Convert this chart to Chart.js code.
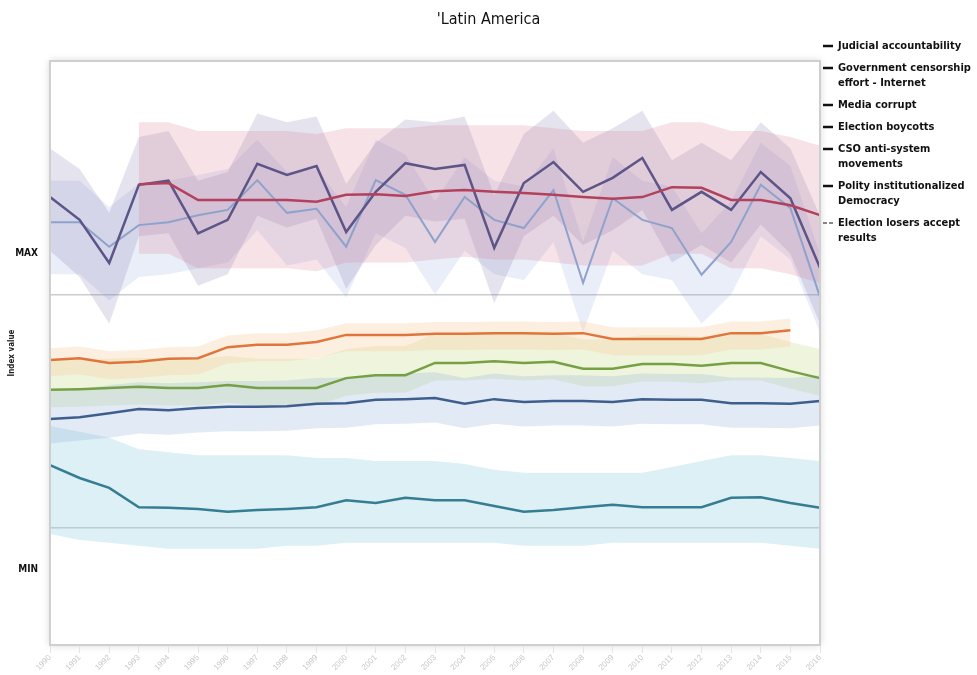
<!DOCTYPE html>
<html>
<head>
<meta charset="utf-8">
<script src="https://cdn.jsdelivr.net/npm/chart.js@4.4.1/dist/chart.umd.min.js"></script>
<style>
  html, body { margin: 0; padding: 0; background: #ffffff; }
  #wrap { width: 977px; height: 675px; }
</style>
</head>
<body>
<div id="wrap"><canvas id="c" width="977" height="675"></canvas></div>
<script>
// ---- data -------------------------------------------------------------
const years = ['1990','1991','1992','1993','1994','1995','1996','1997','1998','1999',
               '2000','2001','2002','2003','2004','2005','2006','2007','2008','2009',
               '2010','2011','2012','2013','2014','2015','2016'];

// y-axis markers (scale runs 0..100 between the two extremes)
const yTickValues = [13, 20, 60, 67];
const yTickLabels = ['MIN', '', '', 'MAX'];

const judicialAccountability = [38.7,39.0,39.7,40.4,40.2,40.6,40.8,40.8,40.9,41.3,41.4,42.0,42.1,42.3,41.3,42.1,41.6,41.8,41.8,41.6,42.1,42.0,42.0,41.4,41.4,41.3,41.8];
const judicialHi = [43.5,43.8,44.5,45.0,44.8,45.0,45.2,45.2,45.3,45.7,45.8,46.4,46.5,46.7,45.7,46.5,46.0,46.2,46.2,46.0,46.5,46.4,46.4,45.8,45.8,45.7,46.2];
const judicialLo = [34.5,35.0,35.5,36.2,36.0,36.4,36.6,36.6,36.7,37.1,37.2,37.8,37.9,38.1,37.1,37.9,37.4,37.6,37.6,37.4,37.9,37.8,37.8,37.2,37.2,37.1,37.6];

const censorshipInternet = [48.8,49.1,48.3,48.5,49.0,49.1,51.0,51.4,51.4,51.9,53.1,53.1,53.1,53.3,53.3,53.4,53.4,53.3,53.4,52.4,52.4,52.4,52.4,53.4,53.4,53.9,null];
const censorshipHi = [50.8,51.1,50.3,50.5,51.0,51.1,53.0,53.4,53.4,53.9,55.1,55.1,55.1,55.3,55.3,55.4,55.4,55.3,55.4,54.4,54.4,54.4,54.4,55.4,55.4,55.9,null];
const censorshipLo = [46.0,46.3,45.5,45.7,46.2,46.3,48.2,48.6,48.6,49.1,50.3,50.3,50.3,50.5,50.5,50.6,50.6,50.5,50.6,49.6,49.6,49.6,49.6,50.6,50.6,51.1,null];

const mediaCorrupt = [43.7,43.8,44.0,44.2,44.0,44.0,44.5,44.0,44.0,44.0,45.7,46.2,46.2,48.3,48.3,48.6,48.3,48.5,47.3,47.3,48.1,48.1,47.8,48.3,48.3,46.9,45.7];
const mediaHi = [48.7,48.8,49.0,49.2,49.0,49.0,49.5,49.0,49.0,49.0,50.7,51.2,51.2,53.3,53.3,53.6,53.3,53.5,52.3,52.3,53.1,53.1,52.8,53.3,53.3,51.9,50.7];
const mediaLo = [40.7,40.8,41.0,41.2,41.0,41.0,41.5,41.0,41.0,41.0,42.7,43.2,43.2,45.3,45.3,45.6,45.3,45.5,44.3,44.3,45.1,45.1,44.8,45.3,45.3,43.9,42.7];

const electionBoycotts = [null,null,null,78.9,79.1,76.2,76.2,76.2,76.2,75.9,77.1,77.2,76.9,77.7,77.9,77.6,77.4,77.1,76.7,76.4,76.7,78.4,78.3,76.2,76.2,75.3,73.6];
const boycottsHi = [null,null,null,89.5,89.5,88.0,88.0,88.0,88.0,87.5,88.5,88.5,88.5,89.0,89.0,89.0,89.0,88.5,88.0,88.0,88.0,89.5,89.5,88.0,88.0,87.0,85.5];
const boycottsLo = [null,null,null,67.0,67.0,64.5,64.5,64.5,64.5,64.0,65.5,65.5,65.5,66.0,66.5,66.0,66.0,65.5,65.0,65.0,65.0,67.0,67.0,64.5,64.5,63.5,62.0];

const csoAntiSystem = [76.7,72.8,65.4,78.8,79.5,70.5,72.8,82.4,80.5,82.0,70.7,77.6,82.5,81.5,82.2,68.0,79.1,82.7,77.6,80.0,83.4,74.5,77.6,74.5,81.0,76.5,64.6];
const csoHi = [85.0,81.5,74.0,87.0,88.0,79.5,81.0,91.0,89.5,90.5,79.0,86.0,90.0,89.5,90.5,77.0,87.5,91.5,86.0,88.5,91.5,83.0,86.0,83.0,89.5,85.0,73.5];
const csoLo = [67.5,63.0,55.0,70.0,70.5,61.5,63.5,73.5,71.5,73.0,61.0,68.5,73.5,72.5,73.0,58.5,70.0,73.5,68.5,71.0,74.5,65.5,68.5,65.5,72.0,67.0,55.0];

const polityDemocracy = [30.8,28.6,26.9,23.6,23.5,23.3,22.8,23.1,23.3,23.6,24.8,24.3,25.2,24.8,24.8,23.8,22.8,23.1,23.6,24.0,23.6,23.6,23.6,25.2,25.3,24.3,23.5];
const polityHi = [37.5,36.5,35.5,33.5,33.0,32.5,32.5,32.5,32.5,32.0,32.0,31.5,31.5,31.5,31.0,30.0,29.5,29.5,29.5,29.5,29.5,30.5,31.5,32.5,32.5,32.0,31.5];
const polityLo = [19.0,18.0,17.5,17.0,16.5,16.5,16.5,16.5,17.0,17.0,17.5,17.5,17.5,17.5,17.5,17.5,17.0,17.0,17.0,17.5,17.5,17.5,17.5,17.5,17.5,17.0,16.5];

const losersAccept = [72.4,72.4,68.2,71.9,72.4,73.6,74.5,79.6,74.0,74.7,68.2,79.6,77.1,69.0,76.7,72.8,71.4,77.9,62.0,76.5,72.8,71.4,63.4,69.0,78.8,74.8,59.6];
const losersHi = [79.5,79.5,75.0,79.0,79.5,80.5,81.5,86.5,81.0,81.5,75.0,86.5,84.0,76.0,83.5,79.5,78.5,85.0,69.0,83.5,79.5,78.5,70.5,76.0,86.0,82.0,67.0];
const losersLo = [63.5,63.5,59.0,63.0,63.5,64.5,65.5,71.0,65.0,66.0,59.5,70.5,68.0,60.0,67.5,63.5,62.5,69.0,53.5,67.5,63.5,62.5,55.0,60.0,70.0,66.0,53.5];

// ---- series definitions ----------------------------------------------
const NARROW = '"Liberation Sans Narrow", "DejaVu Sans Condensed", "Arial Narrow", sans-serif';

const series = [
  { name: ['Judicial accountability'], values: judicialAccountability, hi: judicialHi, lo: judicialLo,
    color: '#3e5e8e', band: 'rgba(150,180,218,0.28)', width: 2.5 },
  { name: ['Government censorship', 'effort - Internet'], values: censorshipInternet, hi: censorshipHi, lo: censorshipLo,
    color: '#e0753b', band: 'rgba(250,205,160,0.32)', width: 2.5 },
  { name: ['Media corrupt'], values: mediaCorrupt, hi: mediaHi, lo: mediaLo,
    color: '#76a044', band: 'rgba(205,225,150,0.32)', width: 2.5 },
  { name: ['Election boycotts'], values: electionBoycotts, hi: boycottsHi, lo: boycottsLo,
    color: '#b3405c', band: 'rgba(215,125,145,0.22)', width: 2.5 },
  { name: ['CSO anti-system', 'movements'], values: csoAntiSystem, hi: csoHi, lo: csoLo,
    color: '#5d5487', band: 'rgba(115,105,165,0.19)', width: 2.5 },
  { name: ['Polity institutionalized', 'Democracy'], values: polityDemocracy, hi: polityHi, lo: polityLo,
    color: '#357d92', band: 'rgba(150,208,225,0.32)', width: 2.5 },
  { name: ['Election losers accept', 'results'], values: losersAccept, hi: losersHi, lo: losersLo,
    color: '#8ea2cc', band: 'rgba(140,160,215,0.18)', width: 2, dashedKey: true }
];

const datasets = [];
// lines first so they sit above everything else
series.forEach(s => {
  datasets.push({
    label: s.name.join(' '), data: s.values, borderColor: s.color, borderWidth: s.width,
    pointRadius: 0, tension: 0, fill: false, spanGaps: false
  });
});
// uncertainty bands: upper edge, then lower edge filled back to it
series.forEach(s => {
  datasets.push({
    label: s.name.join(' ') + ' upper', data: s.hi, borderWidth: 0, borderColor: 'transparent',
    pointRadius: 0, tension: 0, fill: false
  });
  datasets.push({
    label: s.name.join(' ') + ' lower', data: s.lo, borderWidth: 0, borderColor: 'transparent',
    backgroundColor: s.band, pointRadius: 0, tension: 0, fill: '-1'
  });
});

// ---- plugins ----------------------------------------------------------
const frame = {
  id: 'frame',
  beforeDraw(chart) {
    const { ctx, chartArea: a } = chart;
    ctx.save();
    ctx.fillStyle = '#ffffff';
    ctx.shadowColor = 'rgba(0,0,0,0.18)';
    ctx.shadowBlur = 8;
    ctx.fillRect(a.left, a.top, a.right - a.left, a.bottom - a.top);
    ctx.restore();
  },
  afterDraw(chart) {
    const { ctx, chartArea: a } = chart;
    ctx.save();
    ctx.strokeStyle = '#cfcfcf';
    ctx.lineWidth = 2;
    ctx.strokeRect(a.left, a.top, a.right - a.left, a.bottom - a.top);
    ctx.restore();
  }
};

const header = {
  id: 'header',
  afterDraw(chart) {
    const { ctx } = chart;
    ctx.save();
    ctx.fillStyle = '#111';
    ctx.font = '16px ' + NARROW;
    ctx.textAlign = 'center';
    ctx.textBaseline = 'middle';
    ctx.fillText("'Latin America", chart.width / 2, 20);
    ctx.restore();
  }
};

const sideLegend = {
  id: 'sideLegend',
  afterDraw(chart) {
    const { ctx, chartArea: a } = chart;
    const x0 = a.right + 3;
    let y = a.top - 15;
    ctx.save();
    ctx.font = 'bold 11px ' + NARROW;
    ctx.fillStyle = '#111';
    ctx.textAlign = 'left';
    ctx.textBaseline = 'middle';
    series.forEach(s => {
      ctx.strokeStyle = '#111';
      ctx.lineWidth = s.dashedKey ? 1.2 : 2.5;
      ctx.setLineDash(s.dashedKey ? [4, 2] : []);
      ctx.beginPath();
      ctx.moveTo(x0, y);
      ctx.lineTo(x0 + 10, y);
      ctx.stroke();
      ctx.setLineDash([]);
      s.name.forEach((line, i) => ctx.fillText(line, x0 + 15, y + i * 15));
      y += 22 + 15 * (s.name.length - 1);
    });
    ctx.restore();
  }
};

// ---- chart ------------------------------------------------------------
new Chart(document.getElementById('c'), {
  type: 'line',
  data: { labels: years, datasets },
  options: {
    responsive: false,
    animation: false,
    devicePixelRatio: 1,
    layout: { padding: { top: 61, right: 157, left: 0, bottom: 0 } },
    plugins: {
      legend: { display: false },
      title: { display: false },
      tooltip: { enabled: false },
      filler: { drawTime: 'beforeDatasetsDraw' }
    },
    scales: {
      x: {
        type: 'category',
        offset: false,
        border: { display: false },
        grid: { drawOnChartArea: false, drawTicks: true, tickLength: 8, color: '#e4e4e4' },
        ticks: { color: '#c8c8c8', font: { size: 8 }, maxRotation: 45, minRotation: 45, autoSkip: false, padding: 0 },
        afterFit(scale) { scale.height = 30; }
      },
      y: {
        min: 0,
        max: 100,
        border: { display: false },
        afterBuildTicks(scale) { scale.ticks = yTickValues.map(v => ({ value: v })); },
        grid: {
          drawTicks: false,
          lineWidth: 1.5,
          color: ctx => (ctx.tick && yTickLabels[yTickValues.indexOf(ctx.tick.value)] === '') ? '#cccccc' : 'rgba(0,0,0,0)'
        },
        ticks: {
          padding: 12,
          color: '#111',
          font: { family: NARROW, size: 10, weight: 'bold' },
          callback: v => yTickLabels[yTickValues.indexOf(v)]
        },
        title: {
          display: true, text: 'Index value', color: '#222',
          font: { family: NARROW, size: 8, weight: 'bold' }, padding: { top: 7, bottom: 0 }
        },
        afterFit(scale) { scale.width = 50; }
      }
    }
  },
  plugins: [frame, header, sideLegend]
});
</script>
</body>
</html>
